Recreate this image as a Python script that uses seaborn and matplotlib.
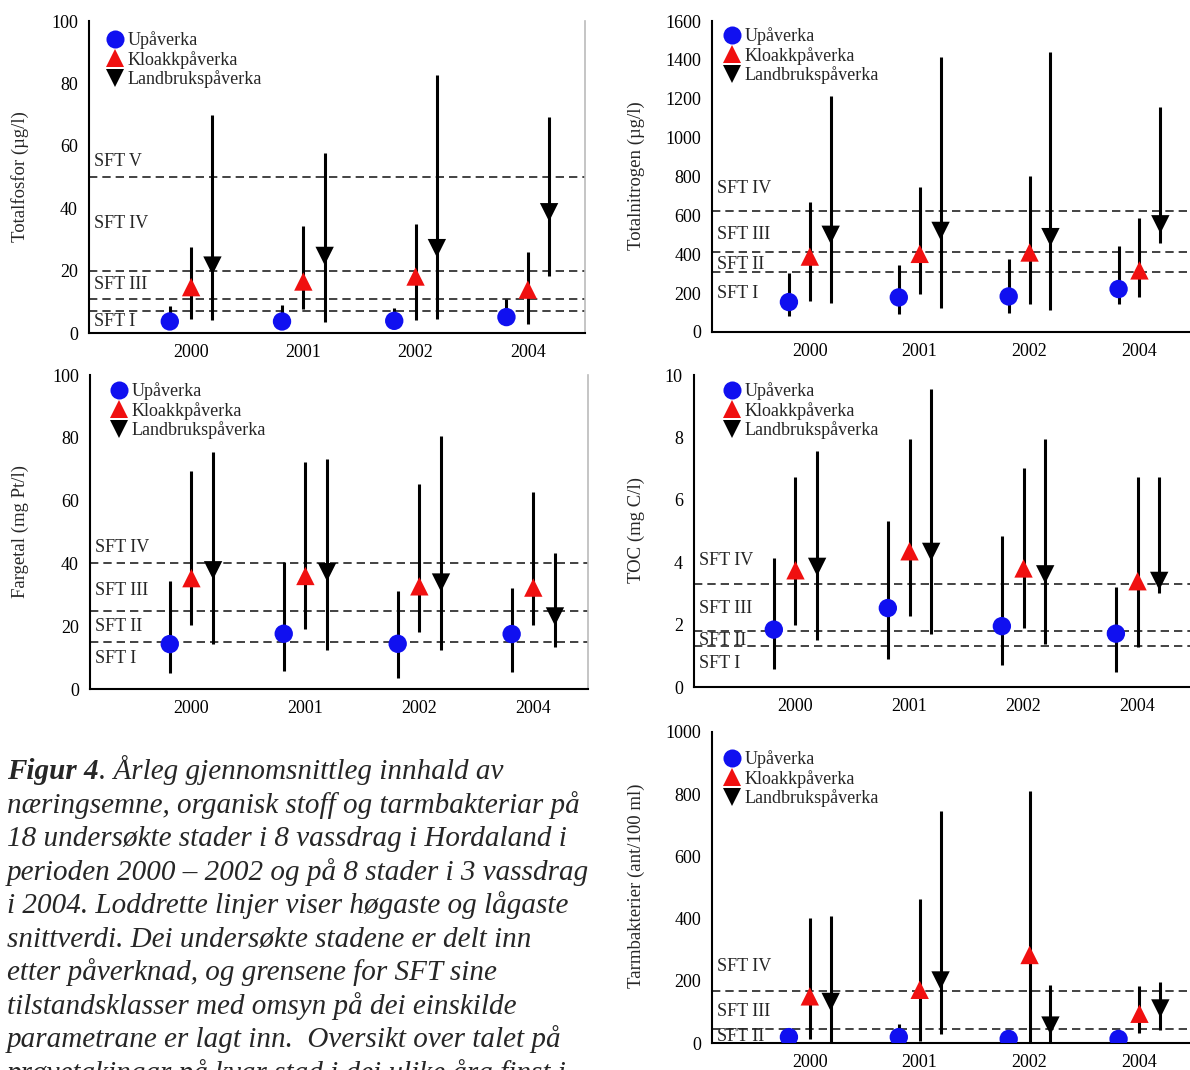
import matplotlib
matplotlib.use("Agg")
import matplotlib.pyplot as plt
from matplotlib.lines import Line2D
import seaborn as sns
import pandas as pd

# Kategoriar
years = ["2000", "2001", "2002", "2004"]
groups = ["Upåverka", "Kloakkpåverka", "Landbrukspåverka"]

# Totalfosfor (µg/l): snitt, lågaste og høgaste snitt per gruppe
fosfor_snitt = [[3.7, 3.7, 3.9, 5.1], [14.7, 16.5, 18.1, 13.9], [21.6, 24.7, 27.2, 38.7]]
fosfor_lav = [[2.0, 2.0, 2.5, 3.0], [4.6, 7.7, 4.1, 3.0], [4.3, 3.4, 4.6, 18.3]]
fosfor_hog = [[8.5, 9.0, 8.0, 11.0], [27.7, 34.3, 34.9, 26.1], [69.8, 57.8, 82.6, 69.1]]
fosfor_sft = [50, 20, 11, 7]
fosfor_sft_tekst = ["SFT V", "SFT IV", "SFT III", "SFT I"]

# Totalnitrogen (µg/l)
nitrogen_snitt = [[154, 178, 183, 221], [388, 402, 409, 317], [500, 520, 488, 554]]
nitrogen_lav = [[80, 92, 98, 145], [157, 197, 144, 178], [149, 123, 115, 460]]
nitrogen_hog = [[306, 346, 375, 443], [671, 748, 804, 589], [1213, 1415, 1441, 1155]]
nitrogen_sft = [620, 410, 310]
nitrogen_sft_tekst = ["SFT IV", "SFT III", "SFT II", "SFT I"]

# Fargetal (mg Pt/l)
farge_snitt = [[14.3, 17.6, 14.4, 17.5], [35.3, 36.0, 32.7, 32.3], [37.8, 37.2, 33.9, 23.1]]
farge_lav = [[5.1, 5.8, 3.5, 5.4], [20.5, 19.1, 18.1, 20.3], [14.4, 12.3, 12.5, 13.4]]
farge_hog = [[34.3, 40.6, 31.1, 32.1], [69.5, 72.2, 65.2, 62.7], [75.4, 73.3, 80.7, 43.3]]
farge_sft = [40, 25, 15]
farge_sft_tekst = ["SFT IV", "SFT III", "SFT II", "SFT I"]

# TOC (mg C/l)
toc_snitt = [[1.84, 2.53, 1.95, 1.71], [3.74, 4.35, 3.80, 3.39], [3.85, 4.33, 3.61, 3.40]]
toc_lav = [[0.59, 0.89, 0.70, 0.48], [1.98, 2.28, 1.89, 1.28], [1.50, 1.69, 1.39, 3.00]]
toc_hog = [[4.12, 5.32, 4.83, 3.21], [6.72, 7.94, 7.03, 6.72], [7.57, 9.54, 7.94, 6.72]]
toc_sft = [3.3, 1.8, 1.3]
toc_sft_tekst = ["SFT IV", "SFT III", "SFT II", "SFT I"]

# Tarmbakteriar (ant/100 ml)
tarm_snitt = [[19, 19, 13, 13], [150, 171, 283, 94], [132, 201, 56, 111]]
tarm_lav = [[5, 5, 3, 3], [13, 5, 2, 32], [2, 30, 2, 41]]
tarm_hog = [[30, 62, 20, 20], [401, 463, 811, 182], [409, 747, 185, 196]]
tarm_sft = [166, 45]
tarm_sft_tekst = ["SFT IV", "SFT III", "SFT II"]

caption = [
    "næringsemne, organisk stoff og tarmbakteriar på",
    "18 undersøkte stader i 8 vassdrag i Hordaland i",
    "perioden 2000 – 2002 og på 8 stader i 3 vassdrag",
    "i 2004. Loddrette linjer viser høgaste og lågaste",
    "snittverdi. Dei undersøkte stadene er delt inn",
    "etter påverknad, og grensene for SFT sine",
    "tilstandsklasser med omsyn på dei einskilde",
    "parametrane er lagt inn.  Oversikt over talet på",
    "prøvetakingar på kvar stad i dei ulike åra finst i",
]

sns.set_theme(style="white")
plt.rcParams["font.family"] = ["Liberation Serif", "DejaVu Serif"]

farger = {"Upåverka": "#1010f0", "Kloakkpåverka": "#f01010", "Landbrukspåverka": "black"}
markorar = {"Upåverka": "o", "Kloakkpåverka": "^", "Landbrukspåverka": "v"}
forskyv = [-0.19, 0.0, 0.19]

W, H = 1190, 1070
fig = plt.figure(figsize=(W / 100, H / 100), dpi=100)


def lag_akse(l, t, r, b):
    return fig.add_axes([l / W, 1 - b / H, (r - l) / W, (b - t) / H])


def teikn(ax, snitt, lav, hog, sft, sft_tekst, tekst_y, ylim, ystep, xlim,
          ylabel, ylab_xy, right_spine, leg_xy):
    rows = []
    for gi, g in enumerate(groups):
        for yi in range(len(years)):
            rows.append({"gruppe": g, "x": yi + forskyv[gi],
                         "snitt": snitt[gi][yi], "lav": lav[gi][yi], "hog": hog[gi][yi]})
    df = pd.DataFrame(rows)

    for v in sft:
        ax.axhline(v, color="#222222", lw=1.2, ls=(0, (5, 3)), zorder=1)
    ax.vlines(df["x"], df["lav"], df["hog"], color="black", lw=2.2, zorder=2)
    sns.scatterplot(data=df, x="x", y="snitt", hue="gruppe", style="gruppe",
                    palette=farger, markers=markorar, s=175, linewidth=0,
                    legend=False, ax=ax, zorder=3)

    for t, y in zip(sft_tekst, tekst_y):
        ax.annotate(t, xy=(0, y), xycoords=("axes fraction", "data"),
                    xytext=(3.5, 0), textcoords="offset points",
                    va="center", ha="left", fontsize=13)

    ax.set_xlim(*xlim)
    ax.set_ylim(*ylim)
    ax.set_xticks(range(len(years)))
    ax.set_xticklabels(years)
    ax.set_yticks([ylim[0] + ystep * k for k in range(int(round((ylim[1] - ylim[0]) / ystep)) + 1)])
    ax.set_xlabel("")
    ax.set_ylabel("")
    ax.tick_params(axis="both", length=0, labelsize=13, colors="black")
    ax.tick_params(axis="y", pad=8)
    ax.tick_params(axis="x", pad=8)
    for s in ["left", "bottom"]:
        ax.spines[s].set_color("black")
        ax.spines[s].set_linewidth(1.5)
    ax.spines["top"].set_visible(False)
    if right_spine:
        ax.spines["right"].set_color("#bbbbbb")
        ax.spines["right"].set_linewidth(1.2)
    else:
        ax.spines["right"].set_visible(False)

    fig.text(ylab_xy[0] / W, 1 - ylab_xy[1] / H, ylabel, rotation=90,
             ha="center", va="center", fontsize=13.5)

    handles = [Line2D([], [], marker=markorar[g], color=farger[g], ls="",
                      markersize=13, markeredgewidth=0) for g in groups]
    ax.legend(handles, groups, loc="upper left",
              bbox_to_anchor=(leg_xy[0] / W, 1 - leg_xy[1] / H),
              bbox_transform=fig.transFigure, frameon=False, fontsize=13,
              borderpad=0, borderaxespad=0, handlelength=0.9,
              handletextpad=0.25, labelspacing=0.1)


ax1 = lag_akse(89, 21, 585, 333)
teikn(ax1, fosfor_snitt, fosfor_lav, fosfor_hog, fosfor_sft, fosfor_sft_tekst,
      [55, 35, 15.5, 3.7], (0, 100), 20, (-0.91, 3.51),
      "Totalfosfor (µg/l)", (20, 177), True, (107, 31))

ax2 = lag_akse(712, 21, 1190, 332)
teikn(ax2, nitrogen_snitt, nitrogen_lav, nitrogen_hog, nitrogen_sft, nitrogen_sft_tekst,
      [740, 503, 349, 200], (0, 1600), 200, (-0.89, 3.46),
      "Totalnitrogen (µg/l)", (636, 176), False, (724, 27))

ax3 = lag_akse(90, 375, 588, 689)
teikn(ax3, farge_snitt, farge_lav, farge_hog, farge_sft, farge_sft_tekst,
      [45, 31.3, 20, 9.6], (0, 100), 20, (-0.89, 3.48),
      "Fargetal (mg Pt/l)", (20, 531), True, (111, 382))

ax4 = lag_akse(694, 375, 1190, 687)
teikn(ax4, toc_snitt, toc_lav, toc_hog, toc_sft, toc_sft_tekst,
      [4.06, 2.51, 1.5, 0.75], (0, 10), 2, (-0.89, 3.46),
      "TOC (mg C/l)", (636, 530), False, (724, 382))

ax5 = lag_akse(712, 732, 1190, 1043)
teikn(ax5, tarm_snitt, tarm_lav, tarm_hog, tarm_sft, tarm_sft_tekst,
      [246, 100, 21], (0, 1000), 200, (-0.89, 3.46),
      "Tarmbakterier (ant/100 ml)", (636, 886), False, (724, 750))

# Figurtekst (siste lina er avskoren nedst, som i originalen)
cap_size = 21
base0 = 779
step = 33.55
t1 = fig.text(7 / W, 1 - base0 / H, "Figur 4", fontsize=cap_size, style="italic",
              weight="bold", va="baseline", ha="left")
fig.canvas.draw()
bb = t1.get_window_extent()
fig.text(bb.x1 / W, 1 - base0 / H, ". Årleg gjennomsnittleg innhald av",
         fontsize=cap_size, style="italic", va="baseline", ha="left")
for i, line in enumerate(caption):
    fig.text(7 / W, 1 - (base0 + step * (i + 1)) / H, line, fontsize=cap_size,
             style="italic", va="baseline", ha="left")

fig.savefig("out.png", dpi=100)
